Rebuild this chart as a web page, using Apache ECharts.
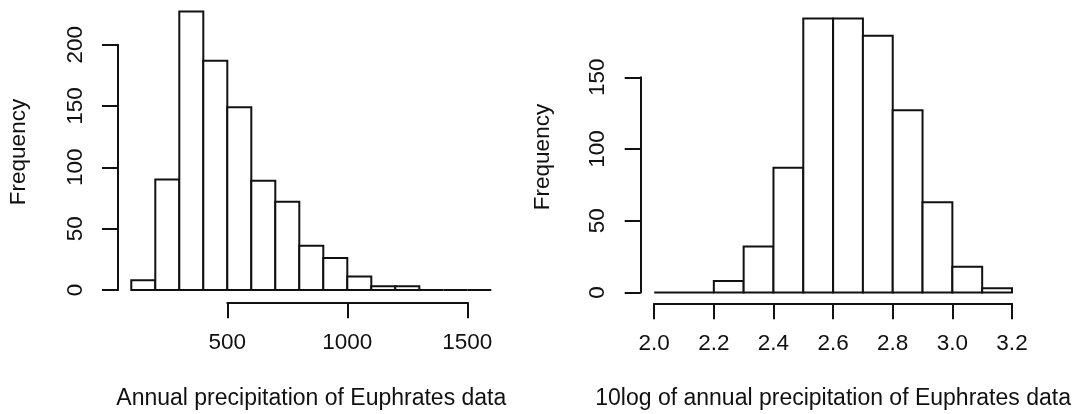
<!DOCTYPE html>
<html>
<head>
<meta charset="utf-8">
<script src="https://cdn.jsdelivr.net/npm/echarts@6/dist/echarts.min.js"></script>
<style>
html,body{margin:0;padding:0;background:#fff;}
#c{width:1074px;height:414px;}
</style>
</head>
<body>
<div id="c"></div>
<script>
// Left histogram: annual precipitation
var breaksA = [100, 200, 300, 400, 500, 600, 700, 800, 900, 1000, 1100, 1200, 1300, 1400, 1500, 1600];
var countsA = [8, 90, 227, 187, 149, 89, 72, 36, 26, 11, 3, 3, 0, 0, 0];
var xTicksA = [500, 1000, 1500];
var yTicksA = [0, 50, 100, 150, 200];
// Right histogram: log10 of annual precipitation
var breaksB = [2.0, 2.1, 2.2, 2.3, 2.4, 2.5, 2.6, 2.7, 2.8, 2.9, 3.0, 3.1, 3.2];
var countsB = [0, 0, 8, 32, 87, 191, 191, 179, 127, 63, 18, 3];
var xTicksB = [2.0, 2.2, 2.4, 2.6, 2.8, 3.0, 3.2];
var yTicksB = [0, 50, 100, 150];
var titleA = 'Annual precipitation of Euphrates data';
var titleB = '10log of annual precipitation of Euphrates data';
var yTitle = 'Frequency';

var INK = '#111';
var FONT = '"Liberation Sans", Arial, Helvetica, sans-serif';
var FS = 22.5;

function histData(breaks, counts) {
  return counts.map(function (c, i) { return [breaks[i], breaks[i + 1], c]; });
}
function renderBar(params, api) {
  var p0 = api.coord([api.value(0), api.value(2)]);
  var p1 = api.coord([api.value(1), 0]);
  var style = { fill: '#fff', stroke: INK, lineWidth: 2 };
  if (api.value(2) === 0) {
    return { type: 'line', shape: { x1: p0[0], y1: p1[1], x2: p1[0], y2: p1[1] }, style: { stroke: INK, lineWidth: 2 } };
  }
  return { type: 'rect', shape: { x: p0[0], y: p0[1], width: p1[0] - p0[0], height: p1[1] - p0[1] }, style: style };
}
function axisBase() {
  return {
    axisLine: { show: true, onZero: false, lineStyle: { color: INK, width: 2 } },
    axisTick: { show: true, inside: false, length: 16, lineStyle: { color: INK, width: 2 } },
    splitLine: { show: false },
    axisLabel: { show: true, color: INK, fontFamily: FONT, fontSize: FS, showMinLabel: true, showMaxLabel: true, hideOverlap: false }
  };
}
function yAxisTicks(ticks) {
  var a = axisBase();
  a.type = 'value'; a.min = ticks[0]; a.max = ticks[ticks.length - 1];
  a.interval = ticks[1] - ticks[0];
  a.axisLabel.rotate = 90; a.axisLabel.margin = 31;
  a.axisLabel.formatter = function (v) { return String(v); };
  return a;
}
function xAxisTicks(ticks, fmt) {
  var a = axisBase();
  a.type = 'value'; a.min = ticks[0]; a.max = ticks[ticks.length - 1];
  a.interval = +(ticks[1] - ticks[0]).toFixed(6);
  a.axisLabel.margin = 29;
  a.axisLabel.formatter = fmt;
  return a;
}

var chart = echarts.init(document.getElementById('c'), null, { renderer: 'canvas' });
var gridBase = { outerBoundsMode: 'none', containLabel: false };
chart.setOption({
  animation: false,
  backgroundColor: '#fff',
  grid: [
    Object.assign({ left: 131.3, top: 7.9, width: 360, height: 282.1 }, gridBase),
    Object.assign({ left: 118, top: 44.7, width: 10, height: 245.3 }, gridBase),
    Object.assign({ left: 227.3, top: 290, width: 240, height: 12.3 }, gridBase),
    Object.assign({ left: 654.2, top: 5.6, width: 357.8, height: 286.9 }, gridBase),
    Object.assign({ left: 640.7, top: 77.3, width: 10, height: 215.2 }, gridBase),
    Object.assign({ left: 654.2, top: 292.5, width: 357.8, height: 10.8 }, gridBase)
  ],
  xAxis: [
    { type: 'value', gridIndex: 0, min: breaksA[0], max: breaksA[breaksA.length - 1], show: false },
    { type: 'value', gridIndex: 1, min: 0, max: 1, show: false },
    Object.assign(xAxisTicks(xTicksA, function (v) { return String(v); }), { gridIndex: 2, position: 'bottom' }),
    { type: 'value', gridIndex: 3, min: breaksB[0], max: breaksB[breaksB.length - 1], show: false },
    { type: 'value', gridIndex: 4, min: 0, max: 1, show: false },
    Object.assign(xAxisTicks(xTicksB, function (v) { return v.toFixed(1); }), { gridIndex: 5, position: 'bottom' })
  ],
  yAxis: [
    { type: 'value', gridIndex: 0, min: 0, max: 230, show: false },
    Object.assign(yAxisTicks(yTicksA), { gridIndex: 1, position: 'left' }),
    { type: 'value', gridIndex: 2, min: 0, max: 1, show: false },
    { type: 'value', gridIndex: 3, min: 0, max: 200, show: false },
    Object.assign(yAxisTicks(yTicksB), { gridIndex: 4, position: 'left' }),
    { type: 'value', gridIndex: 5, min: 0, max: 1, show: false }
  ],
  series: [
    { type: 'custom', xAxisIndex: 0, yAxisIndex: 0, clip: false, renderItem: renderBar,
      encode: { x: [0, 1], y: 2 }, data: histData(breaksA, countsA), silent: true },
    { type: 'custom', xAxisIndex: 3, yAxisIndex: 3, clip: false, renderItem: renderBar,
      encode: { x: [0, 1], y: 2 }, data: histData(breaksB, countsB), silent: true }
  ],
  graphic: [
    { type: 'text', x: 19, y: 152, rotation: Math.PI / 2,
      style: { text: yTitle, fill: INK, font: FS + 'px ' + FONT, textAlign: 'center', textVerticalAlign: 'middle' } },
    { type: 'text', x: 542.6, y: 157, rotation: Math.PI / 2,
      style: { text: yTitle, fill: INK, font: FS + 'px ' + FONT, textAlign: 'center', textVerticalAlign: 'middle' } },
    { type: 'text', x: 311.3, y: 399,
      style: { text: titleA, fill: INK, font: '23px ' + FONT, textAlign: 'center', textVerticalAlign: 'middle' } },
    { type: 'text', x: 833.1, y: 399,
      style: { text: titleB, fill: INK, font: '23px ' + FONT, textAlign: 'center', textVerticalAlign: 'middle' } }
  ]
});
</script>
</body>
</html>
